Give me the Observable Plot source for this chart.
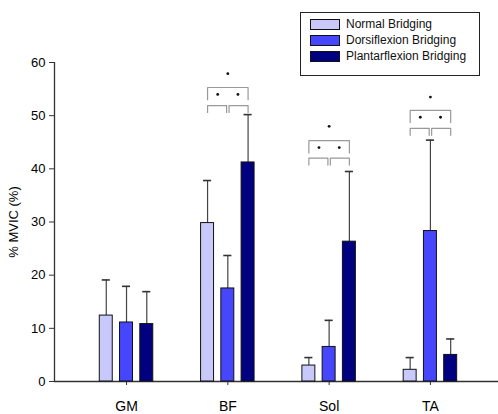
<!DOCTYPE html>
<html>
<head>
<meta charset="utf-8">
<script src="https://cdn.jsdelivr.net/npm/d3@7"></script>
<script src="https://cdn.jsdelivr.net/npm/@observablehq/plot@0.6"></script>
<style>
  html, body { margin: 0; padding: 0; background: #fff; }
  #wrap { position: relative; width: 498px; height: 414px; font-family: "Liberation Sans", Arial, sans-serif; }
  #legend { position: absolute; left: 300px; top: 12px; width: 178px; height: 62px; border: 1.5px solid #222; background: #fff; box-sizing: content-box; }
  .row { position: absolute; left: 9px; height: 16px; display: flex; align-items: center; font-size: 12px; color: #111; }
  .sw { width: 28px; height: 9px; border: 1px solid #111; margin-right: 6px; }
</style>
</head>
<body>
<div id="wrap"><div id="chart"></div><div id="legend"></div></div>
<script>
const categories = ["GM", "BF", "Sol", "TA"];
const seriesNames = ["Normal Bridging", "Dorsiflexion Bridging", "Plantarflexion Bridging"];
const seriesColors = ["#c8c8fa", "#4646fc", "#000080"];
const normalMean = [12.4, 29.8, 3.0, 2.2];
const normalTop = [19.1, 37.8, 4.5, 4.5];
const dorsiMean = [11.1, 17.5, 6.5, 28.3];
const dorsiTop = [17.9, 23.7, 11.5, 45.4];
const plantarMean = [10.8, 41.2, 26.3, 5.0];
const plantarTop = [16.9, 50.2, 39.5, 8.0];
const yTicks = [0, 10, 20, 30, 40, 50, 60];
// significance annotations
const sigCategories = ["BF", "Sol", "TA"];
const pairLevel = [51.9, 42.0, 47.6];
const allLevel = [55.3, 45.3, 51.0];
const starLevel = [57.9, 48.0, 53.5];

const offset = 0.2, half = 0.064;
const means = [normalMean, dorsiMean, plantarMean];
const tops = [normalTop, dorsiTop, plantarTop];
const bars = [];
categories.forEach((c, i) => {
  seriesNames.forEach((s, j) => {
    const xc = i + (j - 1) * offset;
    bars.push({cat: c, series: s, x1: xc - half, x2: xc + half, xc, y: means[j][i], top: tops[j][i]});
  });
});

const lines = [], dots = [];
sigCategories.forEach((c, k) => {
  const i = categories.indexOf(c);
  const xs = [i - offset, i, i + offset];
  const g = 0.012;
  // pair brackets
  [[xs[0], xs[1] - g], [xs[1] + g, xs[2]]].forEach(([a, b], m) => {
    const id = c + "p" + m, lo = pairLevel[k] - 1.3;
    lines.push({id, x: a, y: lo}, {id, x: a, y: pairLevel[k]}, {id, x: b, y: pairLevel[k]}, {id, x: b, y: lo});
  });
  const id = c + "all", lo = allLevel[k] - 2.3;
  lines.push({id, x: xs[0], y: lo}, {id, x: xs[0], y: allLevel[k]}, {id, x: xs[2], y: allLevel[k]}, {id, x: xs[2], y: lo});
  dots.push({x: (xs[0] + xs[1]) / 2, y: allLevel[k] - 1.3});
  dots.push({x: (xs[1] + xs[2]) / 2, y: allLevel[k] - 1.3});
  dots.push({x: xs[1], y: starLevel[k]});
});

const chart = Plot.plot({
  width: 498, height: 414,
  marginLeft: 54, marginRight: 0, marginTop: 62, marginBottom: 33,
  style: {fontFamily: "Liberation Sans, Arial, sans-serif", background: "#fff"},
  x: {type: "linear", domain: [-0.711, 3.672]},
  y: {domain: [0, 60]},
  marks: [
    Plot.ruleY([0], {stroke: "#333", strokeWidth: 1.3}),
    Plot.ruleX([-0.711], {y1: 0, y2: 60, stroke: "#333", strokeWidth: 1.3}),
    Plot.axisY({ticks: yTicks, tickSize: 5, tickPadding: 4, fontSize: 13, stroke: "#333",
      label: "% MVIC (%)", labelAnchor: "center", labelArrow: "none", labelOffset: 46}),
    Plot.axisX({ticks: [0, 1, 2, 3], tickFormat: i => categories[i], tickSize: 4, tickPadding: 16, fontSize: 14, stroke: "#333", label: null}),
    Plot.ruleX(bars, {x: "xc", y1: "y", y2: "top", stroke: "#444", strokeWidth: 1.2}),
    Plot.ruleY(bars, {y: "top", x1: d => d.xc - 0.04, x2: d => d.xc + 0.04, stroke: "#333", strokeWidth: 1.6}),
    Plot.rectY(bars, {x1: "x1", x2: "x2", y1: 0, y2: "y", fill: "series", stroke: "#111", strokeWidth: 1}),
    Plot.line(lines, {x: "x", y: "y", z: "id", stroke: "#999", strokeWidth: 1.2}),
    Plot.dot(dots, {x: "x", y: "y", r: 1.4, fill: "#111", stroke: null})
  ],
  color: {domain: seriesNames, range: seriesColors}
});
document.getElementById("chart").appendChild(chart);

const legend = document.getElementById("legend");
seriesNames.forEach((s, j) => {
  const row = document.createElement("div");
  row.className = "row";
  row.style.top = (3 + j * 16) + "px";
  const sw = document.createElement("div");
  sw.className = "sw";
  sw.style.background = seriesColors[j];
  row.appendChild(sw);
  row.appendChild(document.createTextNode(s));
  legend.appendChild(row);
});
</script>
</body>
</html>
